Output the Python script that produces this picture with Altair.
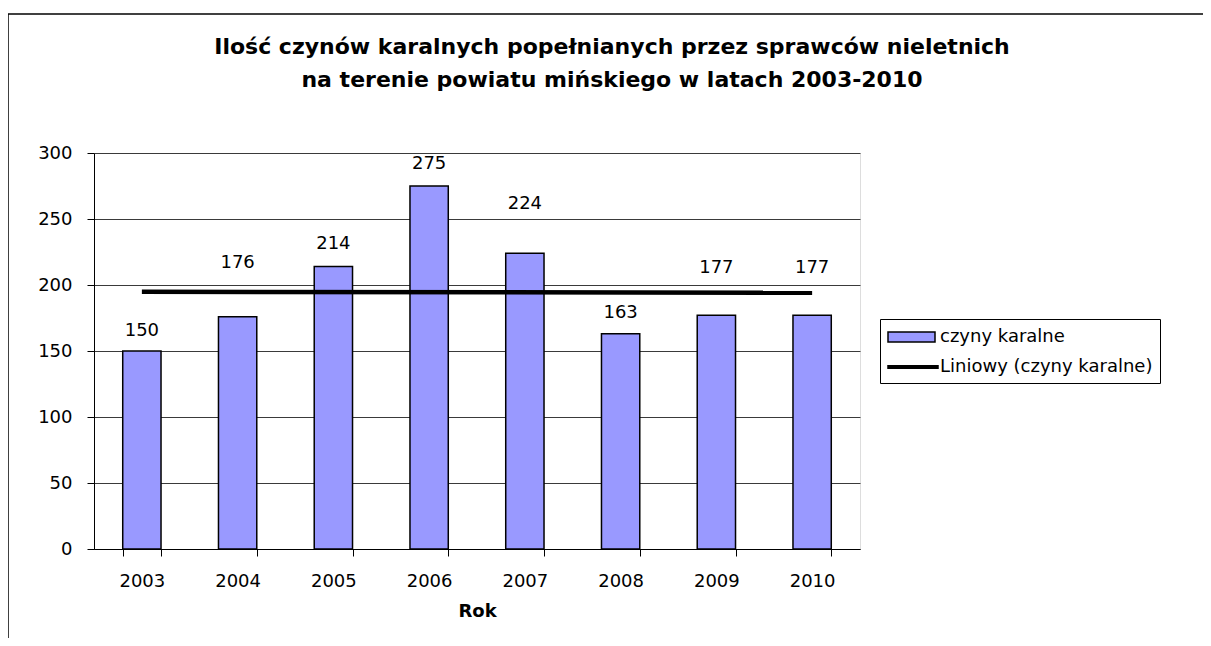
import altair as alt
import pandas as pd

years = [2003, 2004, 2005, 2006, 2007, 2008, 2009, 2010]
values = [150, 176, 214, 275, 224, 163, 177, 177]
label_y = [165, 217, 231, 292, 261, 179, 213, 213]
series_bar = "czyny karalne"
series_trend = "Liniowy (czyny karalne)"
title_lines = [
    "Ilość czynów karalnych popełnianych przez sprawców nieletnich",
    "na terenie powiatu mińskiego w latach 2003-2010",
]
y_ticks = [0, 50, 100, 150, 200, 250, 300]

df = pd.DataFrame({"Rok": years, "value": values, "label_y": label_y, "series": series_bar})

FONT = "DejaVu Sans"
FS = 18

x_enc = alt.X(
    "Rok:O",
    title="Rok",
    scale=alt.Scale(paddingInner=0.6, paddingOuter=0.3),
    axis=alt.Axis(
        labelAngle=0, tickBand="extent", tickSize=7, tickColor="black", domainColor="black",
        labelFont=FONT, labelFontSize=FS, labelColor="black", labelPadding=16,
        titleFont=FONT, titleFontSize=FS, titleFontWeight="bold", titleColor="black", titlePadding=12,
    ),
)
y_enc = alt.Y(
    "value:Q",
    scale=alt.Scale(domain=[0, 300]),
    axis=alt.Axis(
        values=y_ticks, title=None, tickSize=7, tickColor="black", domainColor="black",
        gridColor="#3a3a3a", gridWidth=1,
        labelFont=FONT, labelFontSize=FS, labelColor="black", labelPadding=15,
    ),
)

legend = alt.Legend(
    title=None, orient="none", legendX=786, legendY=166,
    strokeColor="black", fillColor="white", padding=7,
    labelFont=FONT, labelFontSize=FS, labelColor="black", labelOffset=31, labelLimit=400,
    symbolSize=400,
    symbolStrokeWidth=1.5,
    symbolType=alt.ExprRef(
        "datum.value == 'czyny karalne' ? 'M-1,-0.5H3.7V0.5H-1Z' : 'M-1,-0.12H4V0.12H-1Z'"
    ),
    rowPadding=10,
)

color = alt.Color(
    "series:N",
    scale=alt.Scale(domain=[series_bar, series_trend], range=["#9999FF", "#000000"]),
    legend=legend,
)
stroke = alt.Stroke(
    "series:N",
    scale=alt.Scale(domain=[series_bar, series_trend], range=["#000000", "#000000"]),
    legend=legend,
)

bars = alt.Chart(df).mark_bar(strokeWidth=1.5).encode(x=x_enc, y=y_enc, color=color, stroke=stroke)

trend = (
    alt.Chart(df)
    .transform_regression("Rok", "value")
    .transform_calculate(series=f"'{series_trend}'")
    .mark_line(strokeWidth=4.5)
    .encode(x="Rok:O", y="value:Q", stroke=alt.Stroke("series:N"))
)

labels = alt.Chart(df).mark_text(font=FONT, fontSize=FS, baseline="middle", color="black").encode(
    x="Rok:O", y="label_y:Q", text="value:Q"
)

frame_df = pd.DataFrame({"k": [0]})
top_border = alt.Chart(frame_df).mark_rule(color="black", strokeWidth=1.5).encode(
    x=alt.value(-86), x2=alt.value(1130), y=alt.value(-139)
)
left_border = alt.Chart(frame_df).mark_rule(color="black", strokeWidth=1.5).encode(
    x=alt.value(-86), y=alt.value(-139), y2=alt.value(520)
)

chart = (
    alt.layer(bars, trend, labels, top_border, left_border)
    .properties(
        width=766,
        height=396,
        autosize=alt.AutoSizeParams(type="none"),
        padding={"left": 86, "top": 145, "right": 343, "bottom": 89},
        title=alt.TitleParams(
            text=title_lines, font=FONT, fontSize=22, fontWeight="bold", color="black",
            anchor="middle", dx=135, lineHeight=33, offset=-79,
        ),
    )
    .configure_view(fill="#C0C0C0", stroke="#808080", strokeWidth=2)
    .configure(background="white")
)

chart.save("out.html", embed_options={"renderer": "svg", "actions": False})
